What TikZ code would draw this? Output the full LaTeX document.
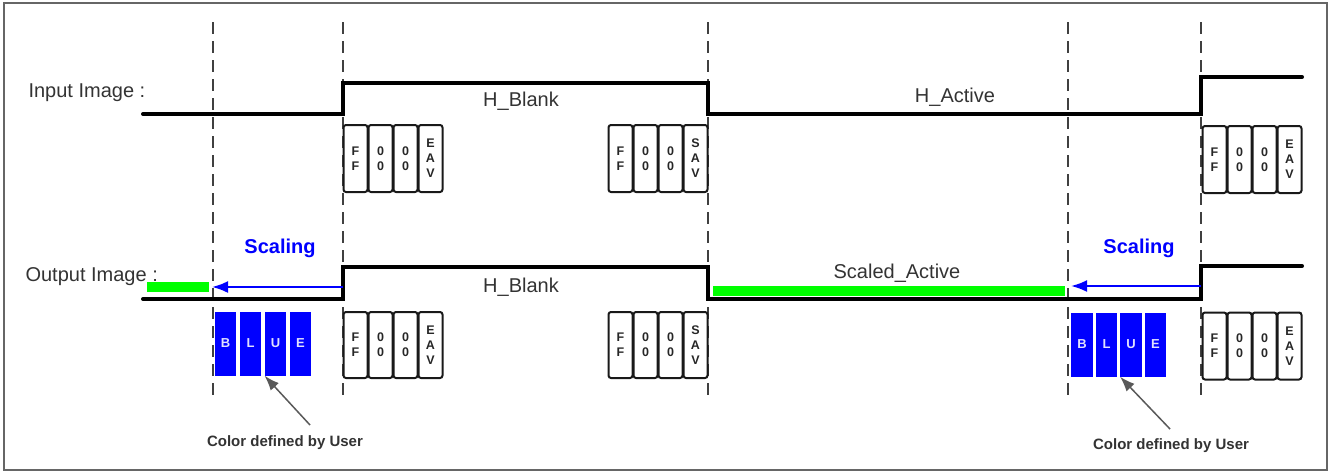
\documentclass[tikz,border=0pt]{standalone}
\usepackage{fontspec}
\setmainfont{Liberation Sans}
\usetikzlibrary{arrows.meta}
\begin{document}
\begin{tikzpicture}[x=1pt,y=-1pt,
  frame/.style={draw=black!60, line width=1.5pt},
  wave/.style={line width=4pt, line join=miter, line cap=round},
  guide/.style={draw=black!75, line width=1.3pt, dash pattern=on 12pt off 7pt},
  cell/.style={draw=black!90, line width=2pt, rounded corners=2.5pt,
    minimum width=24pt, inner sep=0pt, align=center,
    font=\fontsize{12.5}{15}\selectfont\bfseries, text=black!85},
  bluecell/.style={fill=blue, draw=none, minimum width=21.5pt, minimum height=64pt,
    inner sep=0pt, text=blue!12, font=\fontsize{13}{15}\selectfont\bfseries},
  sig/.style={font=\fontsize{20}{24}\selectfont, text=black!80},
  scl/.style={font=\fontsize{20}{24}\selectfont\bfseries, text=blue},
  note/.style={font=\fontsize{15}{18}\selectfont\bfseries, text=black!80},
  scalearrow/.style={draw=blue, line width=2.2pt, -{Latex[length=16pt,width=12pt]}},
  notearrow/.style={draw=black!65, line width=1.5pt, -{Latex[length=15pt,width=11pt]}},
  fillbar/.style={fill={rgb,255:red,0;green,255;blue,0}, draw=none}
]
\useasboundingbox (0,0) rectangle (1332,472);
\draw[frame] (4,3) rectangle (1327,470);

% timing guides
\foreach \gx in {213,343,708,1068,1201}
  \draw[guide] (\gx,22) -- (\gx,398);

% signal labels
\node[sig, anchor=west] (lin) at (25,93) {Input Image :};
\node[sig, anchor=west] (lout) at (22,277) {Output Image :};

% input waveform
\draw[wave] (143,114) -- (343,114) -- (343,83) -- (708,83) -- (708,114)
  -- (1201,114) -- (1201,77) -- (1302,77);
% output waveform
\draw[wave] (143,299) -- (343,299) -- (343,267) -- (708,267) -- (708,299)
  -- (1201,299) -- (1201,266) -- (1302,266);

\node[sig] (hb1) at (521,101) {H\_Blank};
\node[sig] (ha) at (955,97) {H\_Active};
\node[sig] (hb2) at (521,287) {H\_Blank};
\node[sig] (sa) at (897,273) {Scaled\_Active};

% green bars of the scaled picture
\fill[fillbar] (147,282) rectangle (209,292);
\fill[fillbar] (713,286) rectangle (1065,296);

% scaling arrows
\coordinate (s1a) at (343,287);
\coordinate (s1b) at (212,287);
\coordinate (s2a) at (1201,286);
\coordinate (s2b) at (1071,286);
\draw[scalearrow] (s1a) -- (s1b);
\draw[scalearrow] (s2a) -- (s2b);
\node[scl] (sc1) at (280,248) {Scaling};
\node[scl] (sc2) at (1139,248) {Scaling};

% timing reference code cells
\newcommand{\codecells}[5]{%
  \foreach \txt [count=\k] in {{F\\F},{0\\0},{0\\0},{#5}}
    \node[cell, minimum height=#4] (#1-\k) at ({#2+12.5+25*(\k-1)},#3) {\txt};}
\codecells{ie}{343}{158.5}{67pt}{E\\A\\V}
\codecells{is}{608}{158.5}{67pt}{S\\A\\V}
\codecells{ir}{1202}{159.5}{67pt}{E\\A\\V}
\codecells{oe}{343}{345}{66pt}{E\\A\\V}
\codecells{os}{608}{345}{66pt}{S\\A\\V}
\codecells{or}{1202}{346}{67pt}{E\\A\\V}

% user colour cells
\foreach \ch [count=\k] in {B,L,U,E}{
  \node[bluecell] (bl-\k) at ({225.5+25*(\k-1)},343.5) {\ch};
  \node[bluecell] (br-\k) at ({1082+24.5*(\k-1)},344.5) {\ch};
}

% notes
\node[note] (n1) at (285,443) {Color defined by User};
\node[note] (n2) at (1171,446) {Color defined by User};
\coordinate (n1t) at (310,425);
\coordinate (n2t) at (1170,429);
\draw[notearrow] (n1t) -- (bl-3.south west);
\draw[notearrow] (n2t) -- (br-3.south west);
\end{tikzpicture}
\end{document}
